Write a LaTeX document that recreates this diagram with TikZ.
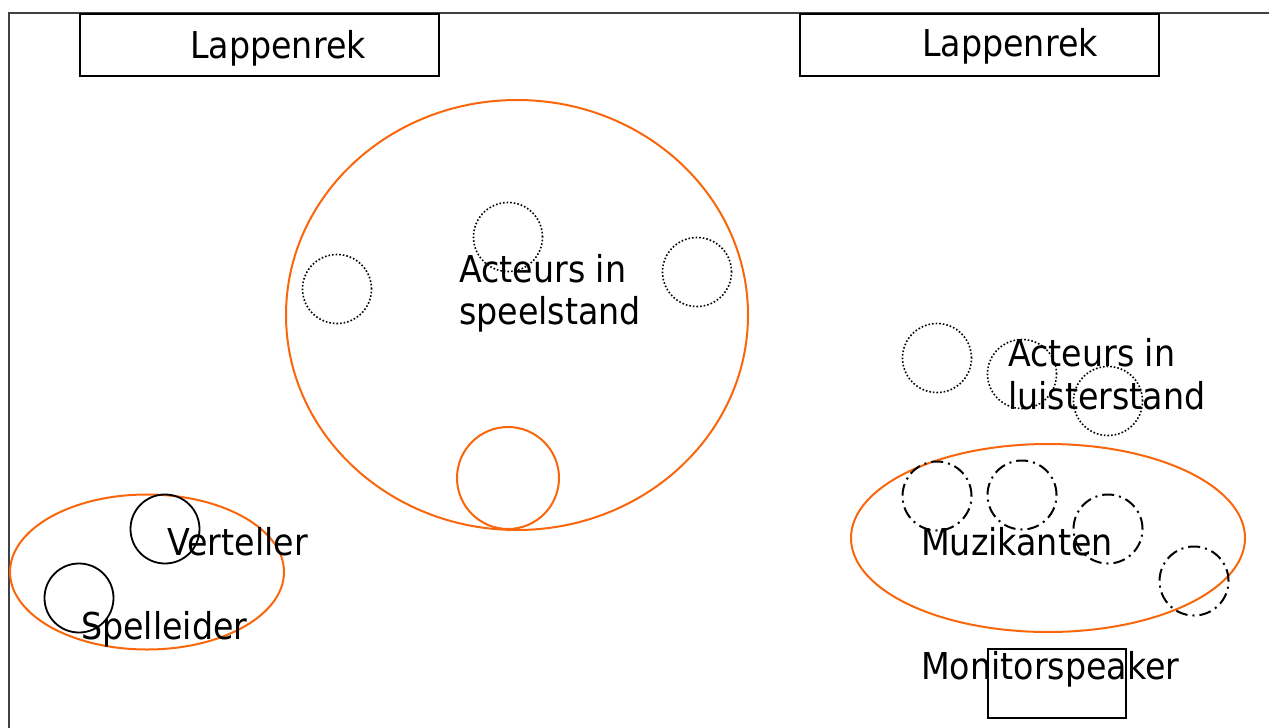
\documentclass[tikz,border=0pt]{standalone}
\usepackage{fontspec}
\setmainfont{DejaVu Sans}[FakeStretch=0.9]
\usetikzlibrary{shapes.geometric}
\definecolor{orng}{RGB}{250,102,12}
\tikzset{
  lbl/.style={anchor=base west,inner sep=0pt,font=\fontsize{37}{41}\selectfont},
  rack/.style={draw=black,line width=1.8pt,inner sep=0pt,minimum width=359pt,minimum height=62pt},
  zone/.style={draw=orng,line width=2pt,ellipse,inner sep=0pt},
  pers/.style={draw=black,circle,inner sep=0pt,minimum size=69pt},
  solidp/.style={pers,line width=1.8pt},
  dotp/.style={pers,line width=1.6pt,dotted},
  dashp/.style={pers,line width=2pt,dash pattern=on 12pt off 5pt on 2pt off 5pt},
}
\begin{document}
\begin{tikzpicture}[x=1pt,y=-1pt]
\useasboundingbox (0,0) rectangle (1269,728);
\fill[white] (0,0) rectangle (1269,728);
% frame
\draw[black!75,line width=2pt] (9,728) -- (9,13) -- (1270,13);
% racks
\node[rack] (rack1) at (259.5,45) {};
\node[lbl] (rack1t) at (190,58) {Lappenrek};
\node[rack] (rack2) at (979.5,45) {};
\node[lbl] (rack2t) at (922,56) {Lappenrek};
% big stage circle
\node[zone,minimum width=462pt,minimum height=430pt] (stage) at (517,315) {};
\node[draw=orng,line width=2pt,circle,inner sep=0pt,minimum size=102pt] (spot) at (508,478) {};
\node[dotp] (a1) at (508,237) {};
\node[dotp] (a2) at (337,289) {};
\node[dotp] (a3) at (697,272) {};
\node[lbl] (speel1) at (459,282) {Acteurs in};
\node[lbl] (speel2) at (459,324) {speelstand};
% listening actors
\node[dotp] (l1) at (937,358) {};
\node[dotp] (l2) at (1022,374) {};
\node[dotp] (l3) at (1108,401) {};
\node[lbl] (luis1) at (1008,366) {Acteurs in};
\node[lbl] (luis2) at (1008,409) {luisterstand};
% musicians
\node[zone,minimum width=394pt,minimum height=188pt] (muz) at (1048,538) {};
\node[dashp] (m1) at (937,496) {};
\node[dashp] (m2) at (1022,495) {};
\node[dashp] (m3) at (1108,529) {};
\node[dashp] (m4) at (1194,581) {};
\node[lbl] (muzt) at (921,555) {Muzikanten};
% monitor
\node[lbl] (mont) at (921,679) {Monitorspeaker};
\node[draw=black,line width=1.8pt,inner sep=0pt,minimum width=138pt,minimum height=69pt] (mon) at (1057,683.5) {};
% narrator / director
\node[zone,minimum width=274pt,minimum height=155pt] (left) at (147,572) {};
\node[solidp] (vert) at (165,529) {};
\node[solidp] (spel) at (79,598) {};
\node[lbl] (vertt) at (167,555) {Verteller};
\node[lbl] (spelt) at (81,639) {Spelleider};
\end{tikzpicture}
\end{document}
